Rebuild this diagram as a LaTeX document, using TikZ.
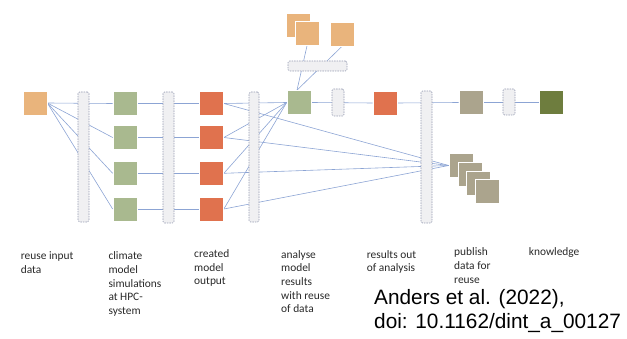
\documentclass[tikz,border=0pt]{standalone}
\usepackage{fontspec}
\setmainfont{Carlito}
\newfontfamily\citefont{Liberation Sans}
\usetikzlibrary{backgrounds}
\definecolor{inorange}{RGB}{233,180,124}
\definecolor{simgreen}{RGB}{169,185,143}
\definecolor{outred}{RGB}{224,114,78}
\definecolor{pubgray}{RGB}{171,164,141}
\definecolor{knowgreen}{RGB}{110,125,62}
\definecolor{barfill}{RGB}{240,240,242}
\definecolor{barline}{RGB}{150,156,178}
\definecolor{linkblue}{RGB}{140,164,212}
\definecolor{textgray}{RGB}{40,40,40}
\begin{document}
\begin{tikzpicture}[x=1pt,y=-1pt,
  box/.style={rectangle, minimum width=24pt, minimum height=24pt, inner sep=0pt, draw=white, line width=0.7pt},
  bar/.style={rectangle, rounded corners=1.5pt, draw=barline, dash pattern=on 1.5pt off 1pt, line width=0.6pt, fill=barfill, inner sep=0pt},
  conn/.style={draw=linkblue, line width=0.6pt},
  lbl/.style={anchor=north west, inner sep=0pt, align=left, font=\fontsize{11.4}{13.7}\selectfont, text=textgray},
  cite/.style={anchor=north west, inner sep=0pt, align=left, font=\citefont\fontsize{20.8}{24}\selectfont, text=black}]
\useasboundingbox (0,0) rectangle (627,339);

% boxes
\node[box, fill=inorange] (in) at (35,103) {};
\node[box, fill=simgreen] (g1) at (125,103.5) {};
\node[box, fill=simgreen] (g2) at (125,137.5) {};
\node[box, fill=simgreen] (g3) at (125,173.3) {};
\node[box, fill=simgreen] (g4) at (125,209) {};
\node[box, fill=outred] (r1) at (211.5,103.5) {};
\node[box, fill=outred] (r2) at (211.5,137.5) {};
\node[box, fill=outred] (r3) at (211.5,173.3) {};
\node[box, fill=outred] (r4) at (211.5,209) {};
\node[box, fill=simgreen] (an) at (299,102.5) {};
\node[box, fill=outred] (res) at (385,103) {};
\node[box, fill=pubgray] (pub) at (471,102.5) {};
\node[box, fill=knowgreen] (kn) at (551,102.5) {};
\node[box, fill=inorange] (o1) at (298.5,25) {};
\node[box, fill=inorange] (o2) at (307,33.5) {};
\node[box, fill=inorange] (o3) at (342,34) {};
\node[box, fill=pubgray] (s1) at (461,165.5) {};
\node[box, fill=pubgray] (s2) at (470,174.5) {};
\node[box, fill=pubgray] (s3) at (478.5,183) {};
\node[box, fill=pubgray] (s4) at (487,191) {};

% dashed bars
\node[bar, minimum width=11pt, minimum height=130pt] (b1) at (83.5,157) {};
\node[bar, minimum width=11pt, minimum height=131pt] (b2) at (168.5,157.5) {};
\node[bar, minimum width=10pt, minimum height=130pt] (b3) at (254,157) {};
\node[bar, minimum width=11pt, minimum height=132pt] (b4) at (426.5,157) {};
\node[bar, minimum width=12pt, minimum height=27pt] (ba) at (338,102.5) {};
\node[bar, minimum width=12pt, minimum height=26pt] (bb) at (509,102) {};
\node[bar, minimum width=59pt, minimum height=10pt] (bh) at (317.5,66) {};

% connectors behind
\begin{pgfonlayer}{background}
\foreach \g in {g1,g2,g3,g4} \draw[conn] (in.east) -- (\g.west);
\draw[conn] (g1.east) -- (r1.west);
\draw[conn] (g2.east) -- (r2.west);
\draw[conn] (g3.east) -- (r3.west);
\draw[conn] (g4.east) -- (r4.west);
\foreach \r in {r1,r2,r3,r4} {
  \draw[conn] (\r.east) -- (an.west);
  \draw[conn] (\r.east) -- (s1.west);
}
\draw[conn] (an.east) -- (res.west);
\draw[conn] (res.east) -- (pub.west);
\draw[conn] (pub.east) -- (kn.west);
\draw[conn] (o2.south) -- ([xshift=-2pt]an.north);
\draw[conn] (o3.south) -- ([xshift=-2pt]an.north);
\end{pgfonlayer}

% labels
\node[lbl] (t1) at (20.7,251.7) {reuse input\\data};
\node[lbl] (t2) at (108.3,251.7) {climate\\model\\simulations\\at HPC-\\system};
\node[lbl] (t3) at (194,249.3) {created\\model\\output};
\node[lbl] (t4) at (281,250) {analyse\\model\\results\\with reuse\\of data};
\node[lbl] (t5) at (366.7,250) {results out\\of analysis};
\node[lbl] (t6) at (454,247.7) {publish\\data for\\reuse};
\node[lbl] (t7) at (528.7,247) {knowledge};
\node[cite] (ref) at (374,289.5) {Anders et al. (2022),\\doi: 10.1162/dint\_a\_00127};
\end{tikzpicture}
\end{document}
